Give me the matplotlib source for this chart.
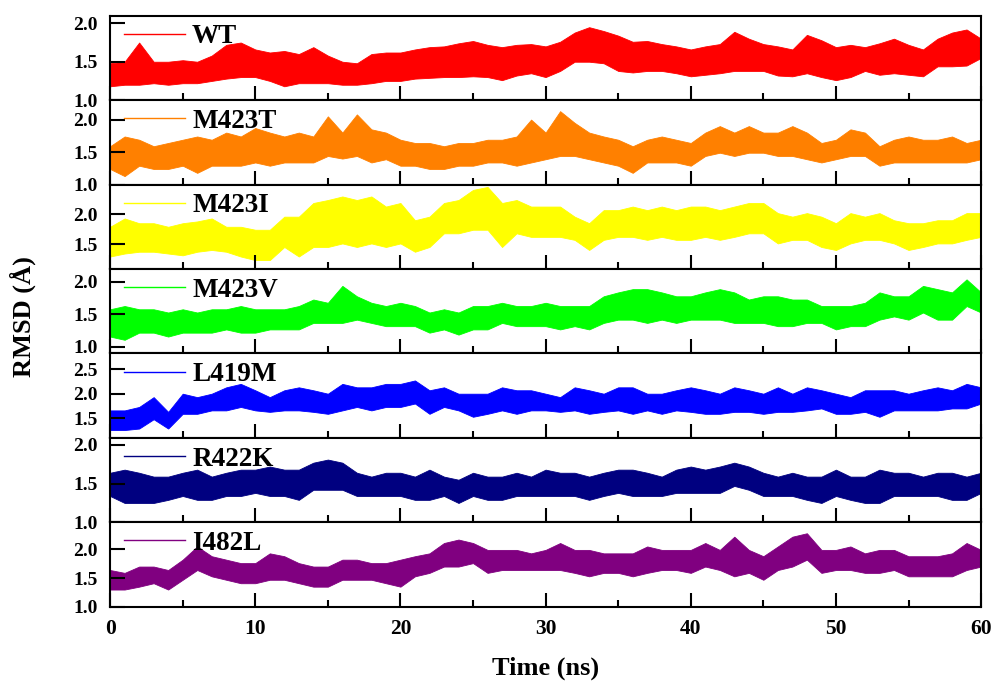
import numpy as np
import matplotlib
matplotlib.use('Agg')
import matplotlib.pyplot as plt
from matplotlib.lines import Line2D
from matplotlib.ticker import MultipleLocator

plt.rcParams['font.family'] = ['Liberation Serif', 'DejaVu Serif']
plt.rcParams['font.weight'] = 'bold'

# время, нс (шаг 1 нс); для каждой траектории - нижняя и верхняя огибающая RMSD
time_ns = np.arange(0, 61)

names = ['WT', 'M423T', 'M423I', 'M423V', 'L419M', 'R422K', 'I482L']
colors = ['#ff0000', '#ff8000', '#ffff00', '#00ff00', '#0000ff', '#000080', '#800080']

wt_hi = [1.48, 1.50, 1.75, 1.50, 1.50, 1.52, 1.50, 1.58, 1.72, 1.75,
         1.66, 1.62, 1.64, 1.60, 1.69, 1.58, 1.50, 1.48, 1.60, 1.62,
         1.62, 1.66, 1.69, 1.70, 1.74, 1.77, 1.72, 1.69, 1.72, 1.73,
         1.70, 1.76, 1.88, 1.95, 1.90, 1.84, 1.76, 1.77, 1.73, 1.70,
         1.66, 1.70, 1.73, 1.89, 1.80, 1.73, 1.70, 1.66, 1.85, 1.78,
         1.69, 1.72, 1.69, 1.74, 1.80, 1.72, 1.66, 1.80, 1.88, 1.92, 1.80]
wt_lo = [1.18, 1.20, 1.20, 1.22, 1.20, 1.22, 1.22, 1.25, 1.28, 1.30,
         1.30, 1.25, 1.18, 1.22, 1.22, 1.22, 1.20, 1.20, 1.22, 1.25,
         1.25, 1.28, 1.29, 1.30, 1.30, 1.31, 1.30, 1.26, 1.32, 1.35,
         1.30, 1.38, 1.50, 1.50, 1.48, 1.38, 1.36, 1.38, 1.38, 1.35,
         1.31, 1.33, 1.35, 1.38, 1.38, 1.38, 1.32, 1.31, 1.35, 1.30,
         1.26, 1.30, 1.38, 1.33, 1.35, 1.33, 1.31, 1.44, 1.44, 1.45, 1.55]

m423t_hi = [1.59, 1.74, 1.69, 1.59, 1.64, 1.69, 1.74, 1.69, 1.80, 1.74,
            1.87, 1.80, 1.74, 1.80, 1.74, 2.05, 1.80, 2.08, 1.85, 1.80,
            1.69, 1.64, 1.64, 1.59, 1.64, 1.64, 1.69, 1.69, 1.74, 2.00,
            1.80, 2.13, 1.95, 1.80, 1.74, 1.69, 1.59, 1.69, 1.74, 1.69,
            1.64, 1.80, 1.90, 1.80, 1.90, 1.80, 1.80, 1.90, 1.80, 1.64,
            1.69, 1.85, 1.80, 1.59, 1.69, 1.74, 1.69, 1.69, 1.74, 1.64, 1.69]
m423t_lo = [1.24, 1.13, 1.29, 1.24, 1.24, 1.29, 1.18, 1.29, 1.29, 1.29,
            1.34, 1.29, 1.34, 1.34, 1.34, 1.44, 1.40, 1.44, 1.34, 1.39,
            1.29, 1.29, 1.24, 1.24, 1.29, 1.29, 1.34, 1.34, 1.29, 1.34,
            1.39, 1.44, 1.44, 1.39, 1.34, 1.29, 1.18, 1.34, 1.34, 1.34,
            1.29, 1.44, 1.49, 1.44, 1.49, 1.49, 1.44, 1.44, 1.39, 1.34,
            1.39, 1.44, 1.44, 1.29, 1.34, 1.34, 1.34, 1.34, 1.34, 1.34, 1.39]

m423i_hi = [1.79, 1.93, 1.85, 1.85, 1.79, 1.85, 1.88, 1.93, 1.79, 1.79,
            1.74, 1.74, 1.96, 1.96, 2.19, 2.24, 2.30, 2.24, 2.30, 2.13,
            2.19, 1.90, 1.96, 2.19, 2.24, 2.41, 2.46, 2.19, 2.24, 2.13,
            2.13, 2.13, 1.96, 1.85, 2.07, 2.07, 2.13, 2.07, 2.13, 2.07,
            2.13, 2.13, 2.07, 2.13, 2.19, 2.19, 2.02, 1.96, 2.02, 1.96,
            1.85, 2.02, 1.96, 2.02, 1.90, 1.85, 1.85, 1.90, 1.90, 2.02, 2.02]
m423i_lo = [1.29, 1.34, 1.37, 1.37, 1.34, 1.31, 1.37, 1.40, 1.37, 1.29,
            1.23, 1.23, 1.45, 1.29, 1.45, 1.45, 1.51, 1.45, 1.51, 1.45,
            1.51, 1.37, 1.45, 1.68, 1.68, 1.74, 1.74, 1.45, 1.68, 1.62,
            1.62, 1.62, 1.57, 1.40, 1.57, 1.62, 1.62, 1.57, 1.62, 1.57,
            1.57, 1.62, 1.57, 1.62, 1.68, 1.68, 1.51, 1.57, 1.57, 1.45,
            1.40, 1.51, 1.57, 1.57, 1.51, 1.40, 1.45, 1.51, 1.51, 1.57, 1.62]

m423v_hi = [1.58, 1.63, 1.58, 1.58, 1.53, 1.58, 1.53, 1.58, 1.58, 1.63,
            1.58, 1.58, 1.58, 1.63, 1.73, 1.68, 1.94, 1.78, 1.68, 1.63,
            1.68, 1.63, 1.53, 1.58, 1.53, 1.63, 1.63, 1.68, 1.63, 1.63,
            1.68, 1.63, 1.63, 1.63, 1.78, 1.84, 1.89, 1.89, 1.84, 1.78,
            1.78, 1.84, 1.89, 1.84, 1.73, 1.78, 1.78, 1.73, 1.73, 1.63,
            1.63, 1.63, 1.68, 1.84, 1.78, 1.78, 1.94, 1.89, 1.84, 2.04, 1.84]
m423v_lo = [1.16, 1.11, 1.22, 1.22, 1.16, 1.22, 1.22, 1.22, 1.27, 1.22,
            1.22, 1.27, 1.27, 1.27, 1.37, 1.37, 1.37, 1.42, 1.37, 1.32,
            1.32, 1.32, 1.22, 1.27, 1.19, 1.27, 1.27, 1.37, 1.32, 1.32,
            1.32, 1.27, 1.32, 1.27, 1.37, 1.42, 1.42, 1.37, 1.42, 1.37,
            1.42, 1.42, 1.42, 1.37, 1.37, 1.37, 1.32, 1.32, 1.37, 1.37,
            1.27, 1.32, 1.32, 1.42, 1.47, 1.42, 1.53, 1.42, 1.42, 1.63, 1.53]

l419m_hi = [1.66, 1.66, 1.73, 1.93, 1.63, 2.00, 1.93, 2.00, 2.13, 2.20,
            2.07, 1.93, 2.07, 2.13, 2.07, 2.00, 2.20, 2.13, 2.13, 2.20,
            2.20, 2.27, 2.07, 2.13, 2.00, 2.00, 2.00, 2.13, 2.07, 2.07,
            2.00, 1.93, 2.13, 2.07, 2.00, 2.13, 2.13, 2.00, 2.00, 2.07,
            2.13, 2.07, 2.00, 2.13, 2.07, 2.00, 2.13, 2.00, 2.13, 2.07,
            2.00, 1.93, 2.07, 2.07, 2.07, 2.00, 2.07, 2.13, 2.07, 2.20, 2.13]
l419m_lo = [1.26, 1.26, 1.29, 1.48, 1.29, 1.59, 1.59, 1.66, 1.66, 1.73,
            1.66, 1.63, 1.66, 1.66, 1.63, 1.59, 1.66, 1.73, 1.66, 1.73,
            1.73, 1.80, 1.59, 1.73, 1.66, 1.53, 1.59, 1.66, 1.59, 1.66,
            1.66, 1.63, 1.66, 1.59, 1.63, 1.66, 1.59, 1.66, 1.59, 1.66,
            1.63, 1.59, 1.59, 1.63, 1.63, 1.59, 1.63, 1.63, 1.66, 1.70,
            1.59, 1.59, 1.63, 1.53, 1.66, 1.66, 1.66, 1.66, 1.70, 1.70, 1.80]

r422k_hi = [1.64, 1.68, 1.64, 1.59, 1.59, 1.64, 1.68, 1.59, 1.64, 1.68,
            1.68, 1.72, 1.68, 1.68, 1.77, 1.81, 1.77, 1.64, 1.59, 1.64,
            1.64, 1.59, 1.68, 1.59, 1.55, 1.64, 1.59, 1.59, 1.64, 1.59,
            1.68, 1.64, 1.64, 1.59, 1.64, 1.68, 1.68, 1.64, 1.59, 1.68,
            1.72, 1.68, 1.72, 1.77, 1.72, 1.64, 1.59, 1.64, 1.59, 1.59,
            1.68, 1.59, 1.59, 1.68, 1.64, 1.64, 1.59, 1.64, 1.64, 1.59, 1.64]
r422k_lo = [1.34, 1.25, 1.25, 1.25, 1.29, 1.34, 1.29, 1.29, 1.34, 1.34,
            1.38, 1.34, 1.34, 1.29, 1.42, 1.42, 1.42, 1.34, 1.34, 1.34,
            1.34, 1.29, 1.29, 1.34, 1.25, 1.34, 1.29, 1.29, 1.34, 1.34,
            1.34, 1.34, 1.34, 1.29, 1.34, 1.38, 1.34, 1.34, 1.34, 1.38,
            1.38, 1.38, 1.38, 1.47, 1.42, 1.34, 1.34, 1.34, 1.29, 1.25,
            1.34, 1.29, 1.25, 1.25, 1.34, 1.34, 1.34, 1.34, 1.29, 1.29, 1.38]

i482l_hi = [1.64, 1.59, 1.70, 1.70, 1.64, 1.82, 2.05, 1.88, 1.82, 1.76,
            1.76, 1.93, 1.88, 1.76, 1.70, 1.70, 1.82, 1.82, 1.76, 1.76,
            1.82, 1.88, 1.93, 2.11, 2.17, 2.11, 1.99, 1.99, 1.99, 1.93,
            1.99, 2.11, 1.99, 1.99, 1.93, 1.93, 1.93, 2.05, 1.99, 1.99,
            1.99, 2.11, 1.99, 2.22, 1.99, 1.88, 2.05, 2.22, 2.28, 1.99,
            1.99, 2.05, 1.93, 1.99, 1.99, 1.88, 1.88, 1.88, 1.93, 2.11, 1.99]
i482l_lo = [1.30, 1.30, 1.35, 1.41, 1.30, 1.47, 1.64, 1.53, 1.47, 1.41,
            1.41, 1.47, 1.47, 1.41, 1.35, 1.35, 1.47, 1.47, 1.47, 1.41,
            1.35, 1.53, 1.59, 1.70, 1.70, 1.76, 1.59, 1.64, 1.64, 1.64,
            1.64, 1.64, 1.59, 1.53, 1.59, 1.59, 1.53, 1.59, 1.64, 1.64,
            1.59, 1.70, 1.64, 1.53, 1.59, 1.47, 1.64, 1.70, 1.82, 1.59,
            1.64, 1.64, 1.59, 1.59, 1.64, 1.53, 1.53, 1.53, 1.53, 1.64, 1.70]

lows = [wt_lo, m423t_lo, m423i_lo, m423v_lo, l419m_lo, r422k_lo, i482l_lo]
highs = [wt_hi, m423t_hi, m423i_hi, m423v_hi, l419m_hi, r422k_hi, i482l_hi]

y_ticks = [[1.0, 1.5, 2.0], [1.0, 1.5, 2.0], [1.5, 2.0], [1.0, 1.5, 2.0],
           [1.5, 2.0, 2.5], [1.0, 1.5, 2.0], [1.0, 1.5, 2.0]]
y_lims = [(1.0, 2.1), (1.0, 2.3), (1.08, 2.5), (0.9, 2.2),
          (1.1, 2.82), (1.0, 2.09), (1.0, 2.47)]

fig, axes = plt.subplots(7, 1, sharex=True, figsize=(9.92, 6.81), dpi=100)
fig.subplots_adjust(left=0.111, right=0.989, top=0.977, bottom=0.109, hspace=0)

for ax, name, c, lo, hi, yt, yl in zip(axes, names, colors, lows, highs, y_ticks, y_lims):
    ax.fill_between(time_ns, lo, hi, color=c, lw=0.6)
    ax.set_xlim(0, 60)
    ax.set_ylim(*yl)
    ax.set_yticks(yt)
    ax.set_yticklabels([f'{v:.1f}' for v in yt])
    ax.xaxis.set_major_locator(MultipleLocator(10))
    ax.xaxis.set_minor_locator(MultipleLocator(5))
    ax.tick_params(axis='x', which='major', direction='in', length=10, width=1.5,
                   labelsize=15.5, pad=9)
    ax.tick_params(axis='x', which='minor', direction='in', length=5, width=1.5)
    ax.tick_params(axis='y', direction='in', length=11, width=1.5,
                   labelsize=14, pad=9)
    for s in ax.spines.values():
        s.set_linewidth(1.5)
    ax.legend(handles=[Line2D([0], [0], color=c, lw=1)], labels=[name],
              loc='upper left', bbox_to_anchor=(0.013, 0.93), frameon=False,
              handlelength=2.26, handletextpad=0.25, borderaxespad=0.1, borderpad=0,
              prop={'size': 19.5, 'weight': 'bold'})

fig.text(0.0227, 0.5345, 'RMSD (Å)', rotation=90, ha='center', va='center',
         fontsize=19, fontweight='bold')
fig.text(0.55, 0.009, 'Time (ns)', ha='center', va='baseline',
         fontsize=19, fontweight='bold')

plt.savefig('out.png', dpi=100)
